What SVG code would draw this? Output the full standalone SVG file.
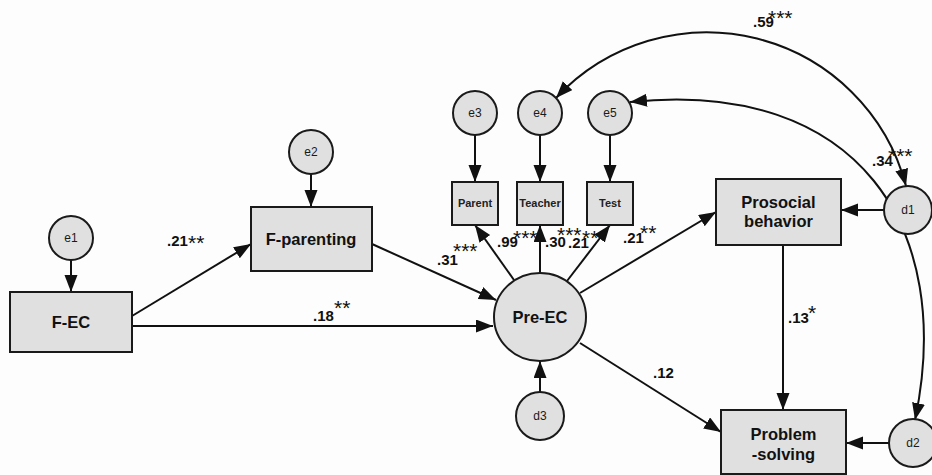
<svg xmlns="http://www.w3.org/2000/svg" width="932" height="475" viewBox="0 0 932 475">
<defs>
<marker id="ah" markerUnits="userSpaceOnUse" markerWidth="18" markerHeight="14" refX="17" refY="6.5" orient="auto-start-reverse">
<path d="M0,0 L17,6.5 L0,13 z" fill="#111"/>
</marker>
<style>
.box{fill:#e0e0e0;stroke:#1a1a1a;stroke-width:2}
.cir{fill:#e0e0e0;stroke:#1a1a1a;stroke-width:2}
.ln{fill:none;stroke:#111;stroke-width:2;marker-end:url(#ah)}
.cov{fill:none;stroke:#111;stroke-width:2;marker-end:url(#ah);marker-start:url(#ah)}
.lb{font-family:"Liberation Sans",Arial,sans-serif;font-weight:bold;font-size:16.5px;fill:#111;text-anchor:middle}
.sm{font-family:"Liberation Sans",Arial,sans-serif;font-weight:bold;font-size:11px;fill:#222;text-anchor:middle}
.ci{font-family:"Liberation Sans",Arial,sans-serif;font-size:12px;fill:#1a1a1a;text-anchor:middle}
.ev{font-family:"Liberation Sans",Arial,sans-serif;font-weight:bold;font-size:15px;fill:#111}
.st{font-family:"Liberation Sans",Arial,sans-serif;font-size:21px;fill:#111}
</style>
</defs>
<rect width="932" height="475" fill="#fdfdfd"/>

<g id="connectors">
<path class="ln" d="M71 260 L71 292"/>
<path class="ln" d="M311 174 L311 207"/>
<path class="ln" d="M132 316 L251 244"/>
<path class="ln" d="M132 326 L493 326"/>
<path class="ln" d="M372 244 L496 300"/>
<path class="ln" d="M475 135 L475 182"/>
<path class="ln" d="M540 135 L540 182"/>
<path class="ln" d="M610 135 L610 182"/>
<path class="ln" d="M514 280 L475 225"/>
<path class="ln" d="M540 273 L540 225"/>
<path class="ln" d="M567 281 L610 225"/>
<path class="ln" d="M580 293 L716 212"/>
<path class="ln" d="M580 343 L721 432"/>
<path class="ln" d="M540 392 L540 361"/>
<path class="ln" d="M783 245 L783 410"/>
<path class="ln" d="M885 210 L841 210"/>
<path class="ln" d="M889 443 L846 443"/>
<path class="cov" d="M556 98 A206 206 0 0 1 906 186"/>
<path class="cov" d="M630 102 C860 78 955 230 915 420"/>
</g>

<g id="labels">
<text class="ev" x="167" y="246">.21</text><text class="st" x="188" y="250">**</text>
<text class="ev" x="313" y="321">.18</text><text class="st" x="334" y="315">**</text>
<text class="ev" x="437" y="265">.31</text><text class="st" x="453" y="258">***</text>
<text class="ev" x="497" y="247">.99</text><text class="st" x="513" y="245">***</text>
<text class="ev" x="545" y="247">.30</text><text class="st" x="557" y="242">***</text>
<text class="ev" x="568" y="248">.21</text><text class="st" x="582" y="245">**</text>
<text class="ev" x="623" y="243">.21</text><text class="st" x="640" y="240">**</text>
<text class="ev" x="653" y="378">.12</text>
<text class="ev" x="788" y="323">.13</text><text class="st" x="808" y="320">*</text>
<text class="ev" x="872" y="166">.34</text><text class="st" x="888" y="163">***</text>
<text class="ev" x="753" y="27">.59</text><text class="st" x="768" y="25">***</text>
</g>

<g id="n-e1"><circle class="cir" cx="71" cy="238" r="22"/><text class="ci" x="71" y="242">e1</text></g>
<g id="n-e2"><circle class="cir" cx="311" cy="152" r="22"/><text class="ci" x="311" y="156">e2</text></g>
<g id="n-e3"><circle class="cir" cx="475" cy="113" r="22"/><text class="ci" x="475" y="117">e3</text></g>
<g id="n-e4"><circle class="cir" cx="540" cy="113" r="22"/><text class="ci" x="540" y="117">e4</text></g>
<g id="n-e5"><circle class="cir" cx="610" cy="113" r="22"/><text class="ci" x="610" y="117">e5</text></g>
<g id="n-d1"><circle class="cir" cx="908" cy="210" r="24"/><text class="ci" x="908" y="214">d1</text></g>
<g id="n-d2"><circle class="cir" cx="913" cy="443" r="24"/><text class="ci" x="913" y="447">d2</text></g>
<g id="n-d3"><circle class="cir" cx="540" cy="416" r="24"/><text class="ci" x="540" y="420">d3</text></g>

<g id="n-fec"><rect class="box" x="10" y="292" width="122" height="60"/><text class="lb" x="71" y="328">F-EC</text></g>
<g id="n-fpar"><rect class="box" x="251" y="207" width="121" height="64"/><text class="lb" x="311" y="245">F-parenting</text></g>
<g id="n-preec"><ellipse class="cir" cx="540" cy="317" rx="46" ry="44"/><text class="lb" x="540" y="323">Pre-EC</text></g>
<g id="n-parent"><rect class="box" x="452" y="182" width="46" height="43"/><text class="sm" x="475" y="207">Parent</text></g>
<g id="n-teacher"><rect class="box" x="517" y="182" width="46" height="43"/><text class="sm" x="540" y="207">Teacher</text></g>
<g id="n-test"><rect class="box" x="587" y="182" width="46" height="43"/><text class="sm" x="610" y="207">Test</text></g>
<g id="n-pro"><rect class="box" x="716" y="179" width="125" height="66"/><text class="lb" x="778.5" y="208">Prosocial</text><text class="lb" x="778.5" y="227">behavior</text></g>
<g id="n-prob"><rect class="box" x="721" y="410" width="125" height="64"/><text class="lb" x="783.5" y="440">Problem</text><text class="lb" x="783.5" y="460">-solving</text></g>
</svg>
